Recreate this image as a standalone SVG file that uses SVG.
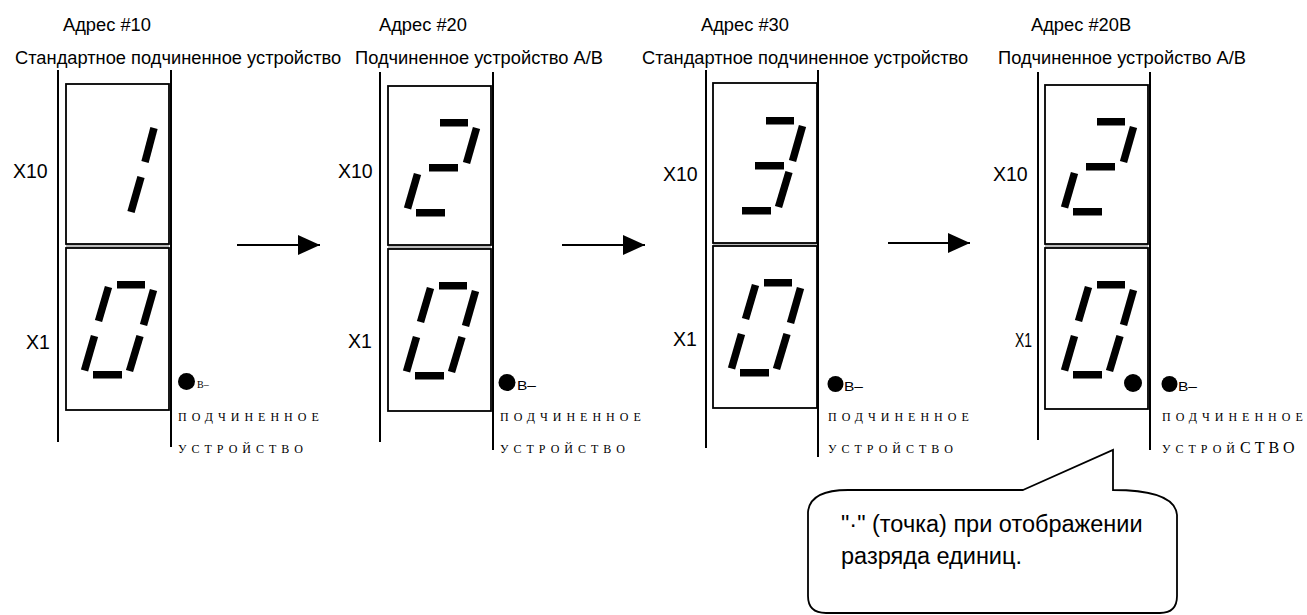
<svg xmlns="http://www.w3.org/2000/svg" width="1307" height="615" viewBox="0 0 1307 615">
<style>
.hdr{font-family:"Liberation Sans",Arial,sans-serif;font-size:18.3px;fill:#000}
.xl{font-family:"Liberation Sans",Arial,sans-serif;font-size:19.5px;fill:#000}
.sub{font-family:"Liberation Serif","Times New Roman",serif;font-size:12px;letter-spacing:5px;fill:#000}
.bl{font-family:"Liberation Sans",Arial,sans-serif;font-size:13px;fill:#000}
.blS{font-family:"Liberation Serif","Times New Roman",serif;font-size:10px;fill:#000}
.vl{stroke:#000;stroke-width:2;fill:none}
.box{stroke:#000;stroke-width:1.8;fill:#fff}
.gap{fill:#bbb}
.seg{stroke:#000;stroke-width:7.5;stroke-linecap:butt}
.bar{fill:#000}
.conn{stroke:#000;stroke-width:2;fill:none}
.callout{stroke:#000;stroke-width:1.8;fill:#fff}
.ct{font-family:"Liberation Sans",Arial,sans-serif;font-size:23.5px;fill:#000}
</style>
<defs>
<marker id="ah" markerUnits="userSpaceOnUse" markerWidth="22" markerHeight="20" refX="22" refY="10" orient="auto">
<path d="M0,0 L22,10 L0,20 Z" fill="#000"/>
</marker>
<g id="sa"><rect class="bar" x="52" y="33" width="28" height="7.5"/></g>
<g id="sb"><line class="seg" x1="88.5" y1="42" x2="78.5" y2="77"/></g>
<g id="sg"><rect class="bar" x="41" y="78" width="29" height="7.5"/></g>
<g id="sc"><line class="seg" x1="75" y1="88" x2="64.5" y2="123"/></g>
<g id="sd"><rect class="bar" x="28" y="123" width="29" height="7.5"/></g>
<g id="se"><line class="seg" x1="29.5" y1="88" x2="19.5" y2="122.5"/></g>
<g id="sf"><line class="seg" x1="43.5" y1="39" x2="33.5" y2="73"/></g>
<g id="d0"><use href="#sa"/><use href="#sb"/><use href="#sc"/><use href="#sd"/><use href="#se"/><use href="#sf"/></g>
<g id="d2"><use href="#sa"/><use href="#sb"/><use href="#sg"/><use href="#se"/><use href="#sd"/></g>
<g id="d3"><use href="#sa"/><use href="#sb"/><use href="#sg"/><use href="#sc"/><use href="#sd"/></g>
</defs>
<rect width="1307" height="615" fill="#fff"/>

<g id="panel1">
<text class="hdr" x="63" y="31" font-size="18">Адрес #10</text>
<text class="hdr" x="15" y="64">Стандартное подчиненное устройство</text>
<line class="vl" x1="58" y1="70" x2="58" y2="442"/>
<line class="vl" x1="171" y1="70" x2="171" y2="447"/>
<rect class="gap" x="66" y="244" width="103" height="4"/>
<rect class="box" x="66" y="84" width="103" height="160"/>
<rect class="box" x="66" y="248" width="103" height="162"/>
<line class="seg" x1="154" y1="128" x2="145" y2="162"/>
<line class="seg" x1="141" y1="177" x2="131" y2="212"/>
<use href="#d0" transform="translate(65,248)"/>
<text class="xl" x="13" y="178">X10</text>
<text class="xl" x="26" y="349">X1</text>
<circle cx="186.5" cy="381.5" r="8.5" fill="#000"/>
<text class="blS" x="197" y="388">В–</text>
<text class="sub" x="178" y="421">ПОДЧИНЕННОЕ</text>
<text class="sub" x="178" y="453">УСТРОЙСТВО</text>
</g>

<g id="panel2">
<text class="hdr" x="379" y="31" font-size="18">Адрес #20</text>
<text class="hdr" x="355" y="64">Подчиненное устройство A/B</text>
<line class="vl" x1="380" y1="72" x2="380" y2="442"/>
<line class="vl" x1="493" y1="72" x2="493" y2="450"/>
<rect class="gap" x="388" y="245" width="103" height="4"/>
<rect class="box" x="388" y="86" width="103" height="159"/>
<rect class="box" x="388" y="249" width="103" height="162"/>
<use href="#d2" transform="translate(388,86)"/>
<use href="#d0" transform="translate(387,249)"/>
<text class="xl" x="338" y="178">X10</text>
<text class="xl" x="348" y="348">X1</text>
<circle cx="507" cy="382.5" r="8.5" fill="#000"/>
<text class="bl" x="517" y="390" textLength="19" lengthAdjust="spacingAndGlyphs">B–</text>
<text class="sub" x="500" y="421">ПОДЧИНЕННОЕ</text>
<text class="sub" x="500" y="453">УСТРОЙСТВО</text>
</g>

<g id="panel3">
<text class="hdr" x="701" y="31" font-size="18">Адрес #30</text>
<text class="hdr" x="642" y="64">Стандартное подчиненное устройство</text>
<line class="vl" x1="706" y1="70" x2="706" y2="448"/>
<line class="vl" x1="818" y1="70" x2="818" y2="457"/>
<rect class="gap" x="713" y="243" width="104" height="3"/>
<rect class="box" x="713" y="83" width="104" height="160"/>
<rect class="box" x="713" y="246" width="104" height="162"/>
<use href="#d3" transform="translate(714,84)"/>
<use href="#d0" transform="translate(712,246)"/>
<text class="xl" x="663" y="181">X10</text>
<text class="xl" x="673" y="346">X1</text>
<circle cx="835.5" cy="384" r="8" fill="#000"/>
<text class="bl" x="844" y="391" textLength="19" lengthAdjust="spacingAndGlyphs">B–</text>
<text class="sub" x="828" y="421">ПОДЧИНЕННОЕ</text>
<text class="sub" x="828" y="453">УСТРОЙСТВО</text>
</g>

<g id="panel4">
<text class="hdr" x="1031" y="31" font-size="18">Адрес #20B</text>
<text class="hdr" x="998" y="64">Подчиненное устройство A/B</text>
<line class="vl" x1="1038" y1="72" x2="1038" y2="440"/>
<line class="vl" x1="1150" y1="72" x2="1150" y2="450"/>
<rect class="gap" x="1045" y="244" width="103" height="4"/>
<rect class="box" x="1045" y="85" width="103" height="159"/>
<rect class="box" x="1045" y="248" width="103" height="161"/>
<use href="#d2" transform="translate(1045,85)"/>
<use href="#d0" transform="translate(1045,248)"/>
<circle cx="1133" cy="383" r="9" fill="#000"/>
<text class="xl" x="993" y="181">X10</text>
<text class="xl" x="1015" y="347" textLength="17" lengthAdjust="spacingAndGlyphs">X1</text>
<circle cx="1169.5" cy="384" r="8" fill="#000"/>
<text class="bl" x="1178" y="391" textLength="19" lengthAdjust="spacingAndGlyphs">B–</text>
<text class="sub" x="1162" y="421">ПОДЧИНЕННОЕ</text>
<text class="sub" x="1162" y="453">УСТРОЙ<tspan font-size="16" letter-spacing="4">СТВО</tspan></text>
</g>

<g id="connectors">
<line class="conn" x1="237" y1="245" x2="320" y2="245" marker-end="url(#ah)"/>
<line class="conn" x1="562" y1="245" x2="645" y2="245" marker-end="url(#ah)"/>
<line class="conn" x1="888" y1="243" x2="970" y2="243" marker-end="url(#ah)"/>
</g>

<g id="callout">
<path class="callout" d="M1023,490 L1113,450 L1113,490 Q1175,490 1177,515 L1177,596 Q1177,613 1160,613 L826,613 Q808,613 808,596 L808,512 Q810,490 848,490 Z"/>
<text class="ct" x="841" y="532">"·" (точка) при отображении</text>
<text class="ct" x="841" y="564">разряда единиц.</text>
</g>
</svg>
